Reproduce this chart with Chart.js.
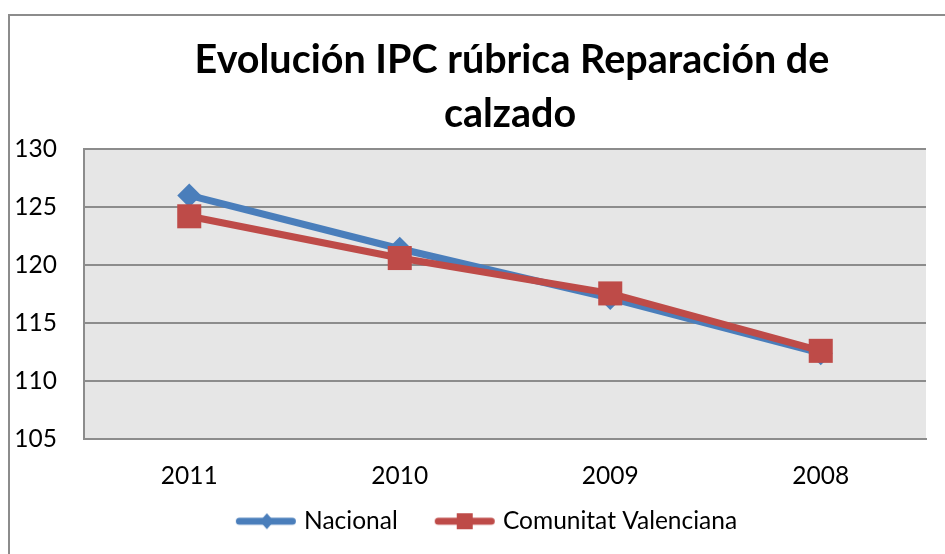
<!DOCTYPE html>
<html>
<head>
<meta charset="utf-8">
<script src="https://cdn.jsdelivr.net/npm/chart.js@4/dist/chart.umd.min.js"></script>
<style>
  html, body { margin: 0; padding: 0; background: #fff; }
  canvas { display: block; }
</style>
</head>
<body>
<canvas id="ipcChart" width="945" height="554"></canvas>
<script>
// data
const years = ['2011', '2010', '2009', '2008'];
const nacional = [126.0, 121.4, 117.15, 112.4];
const valenciana = [124.2, 120.6, 117.55, 112.6];
const seriesNames = ['Nacional', 'Comunitat Valenciana'];
const titleLines = ['Evolución IPC rúbrica Reparación de', 'calzado'];

const FONT = 'Lato, "Open Sans", sans-serif';
const TXT = 24.5;
const BLUE = '#4a7ebb';
const RED = '#be4b48';

// legend swatch: thick line with the marker in the middle (like Excel)
function legendSwatch(color, style) {
  const c = document.createElement('canvas');
  c.width = 70;
  c.height = 24;
  const g = c.getContext('2d');
  g.strokeStyle = color;
  g.fillStyle = color;
  g.lineWidth = 7;
  g.lineCap = 'round';
  g.beginPath();
  g.moveTo(10.5, 12);
  g.lineTo(63.5, 12);
  g.stroke();
  g.beginPath();
  if (style === 'diamond') {
    g.moveTo(38, 4); g.lineTo(45, 12); g.lineTo(38, 20); g.lineTo(31, 12);
    g.closePath();
    g.fill();
  } else {
    g.fillRect(29, 4, 16, 16);
  }
  return c;
}

const frame = {
  id: 'frame',
  afterLayout(chart) {
    // the Excel legend sits centred on the plot, a bit higher than chart.js puts it
    const lg = chart.legend;
    lg.left += 19;
    lg.right += 19;
    lg.top -= 25;
  },
  beforeDraw(chart) {
    const { ctx, chartArea: a } = chart;
    ctx.save();
    ctx.strokeStyle = '#8c8c8c';
    ctx.lineWidth = 2;
    ctx.strokeRect(9, 15, 960, 600);
    ctx.fillStyle = '#e6e6e6';
    ctx.fillRect(a.left, a.top, a.right - a.left, a.bottom - a.top);
    ctx.restore();
  },
  afterDraw(chart) {
    // title centred on the whole chart object, which runs past the right edge
    const { ctx } = chart;
    ctx.save();
    ctx.fillStyle = '#000';
    ctx.font = 'bold 39.5px ' + FONT;
    ctx.textAlign = 'center';
    ctx.textBaseline = 'alphabetic';
    ctx.fillText(titleLines[0], 512, 73);
    ctx.fillText(titleLines[1], 510, 127);
    ctx.restore();
  }
};

new Chart(document.getElementById('ipcChart'), {
  type: 'line',
  data: {
    labels: years,
    datasets: [
      {
        label: seriesNames[0],
        data: nacional,
        borderColor: BLUE,
        backgroundColor: BLUE,
        borderWidth: 7,
        pointStyle: 'rectRot',
        pointRadius: 12,
        pointBorderWidth: 0,
        order: 2,
        swatch: legendSwatch(BLUE, 'diamond'),
      },
      {
        label: seriesNames[1],
        data: valenciana,
        borderColor: RED,
        backgroundColor: RED,
        borderWidth: 7,
        pointStyle: 'rect',
        pointRadius: 17,
        pointBorderWidth: 0,
        order: 1,
        swatch: legendSwatch(RED, 'square'),
      },
    ],
  },
  options: {
    responsive: false,
    animation: false,
    devicePixelRatio: 1,
    layout: { padding: { left: 9, right: 19, top: 149, bottom: 11 } },
    scales: {
      x: {
        offset: true,
        grid: { display: false, drawTicks: false },
        border: { display: true, color: '#8c8c8c', width: 2 },
        ticks: { color: '#000', font: { family: FONT, size: TXT }, padding: 22 },
        afterFit: (s) => { s.height = 58; },
      },
      y: {
        min: 105,
        max: 130,
        ticks: { stepSize: 5, color: '#000', font: { family: FONT, size: TXT }, padding: 27 },
        grid: { color: '#8c8c8c', lineWidth: 2, drawTicks: false },
        border: { display: true, color: '#8c8c8c', width: 2 },
        afterFit: (s) => { s.width = 75; },
      },
    },
    plugins: {
      title: { display: false },
      legend: {
        position: 'bottom',
        maxHeight: 46,
        labels: {
          color: '#000',
          font: { family: FONT, size: TXT },
          usePointStyle: true,
          pointStyleWidth: 56,
          padding: 37,
          generateLabels: (chart) => chart.data.datasets.map((ds, i) => ({
            text: ds.label,
            pointStyle: ds.swatch,
            fillStyle: ds.borderColor,
            strokeStyle: ds.borderColor,
            lineWidth: 0,
            fontColor: '#000',
            datasetIndex: i,
            hidden: false,
          })),
        },
      },
      tooltip: { enabled: false },
    },
  },
  plugins: [frame],
});
</script>
</body>
</html>
